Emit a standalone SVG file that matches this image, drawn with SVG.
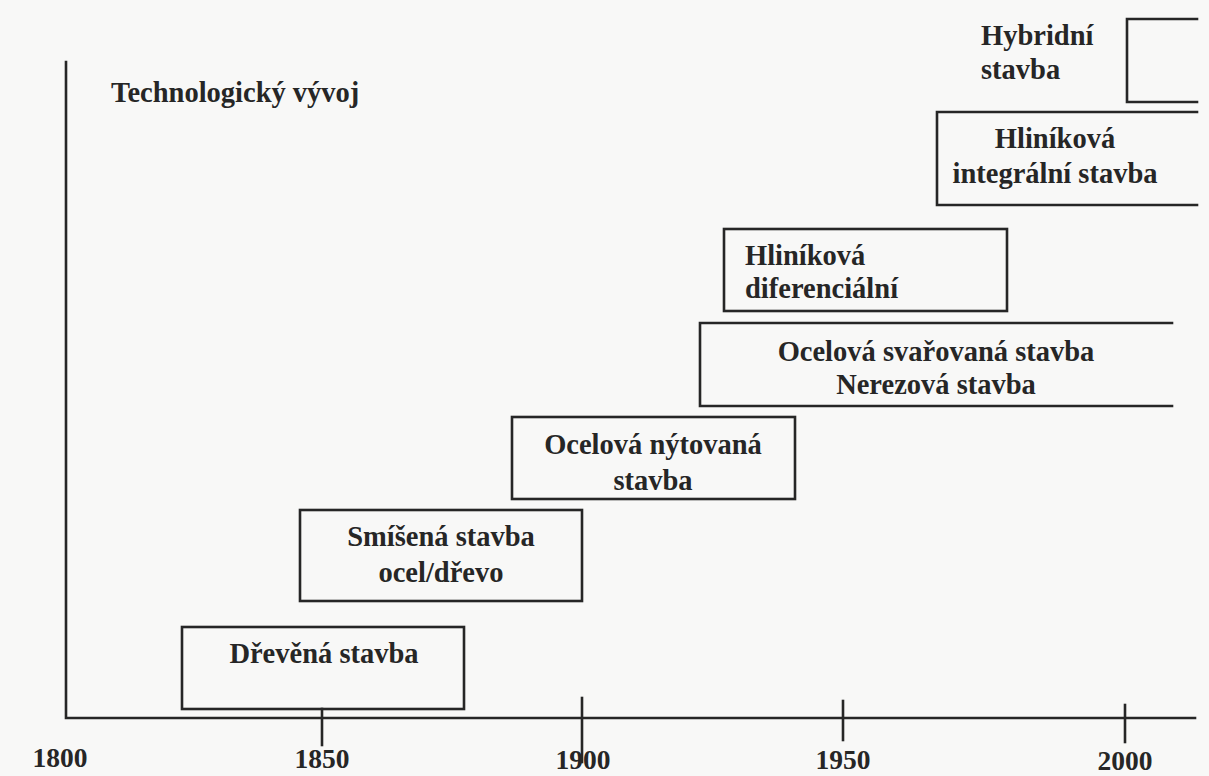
<svg xmlns="http://www.w3.org/2000/svg" width="1209" height="776" viewBox="0 0 1209 776">
<style>
.bg{fill:#f8f8f7}
.ln{stroke:#262626;stroke-width:2.6;fill:none;stroke-linecap:square}
.t{font-family:"Liberation Serif","Times New Roman",serif;font-weight:bold;font-size:28.5px;fill:#262626}
.c{text-anchor:middle}
.y{font-size:27.5px}
</style>
<rect class="bg" x="0" y="0" width="1209" height="776"/>
<g id="connectors">
<path class="ln" d="M66 62 V718 H1195"/>
<path class="ln" d="M322 709 V745"/>
<path class="ln" d="M582 698 V762"/>
<path class="ln" d="M843 701 V740"/>
<path class="ln" d="M1125 705 V742"/>
</g>
<g id="axis-labels">
<text class="t y c" x="60" y="767">1800</text>
<text class="t y c" x="322" y="768">1850</text>
<text class="t y c" x="583" y="769">1900</text>
<text class="t y c" x="843" y="769">1950</text>
<text class="t y c" x="1125" y="770">2000</text>
<text class="t" x="111" y="102">Technologický vývoj</text>
</g>
<g id="hybridni">
<path class="ln" d="M1197 19 H1127 V102 H1197"/>
<text class="t" x="981" y="45">Hybridní</text>
<text class="t" x="981" y="79">stavba</text>
</g>
<g id="hlinikova-integralni">
<path class="ln" d="M1197 112 H937 V205 H1197"/>
<text class="t c" x="1055" y="148">Hliníková</text>
<text class="t c" x="1055" y="183">integrální stavba</text>
</g>
<g id="hlinikova-diferencialni">
<rect class="ln" x="724" y="229" width="283" height="82"/>
<text class="t" x="745" y="265">Hliníková</text>
<text class="t" x="745" y="298">diferenciální</text>
</g>
<g id="ocelova-svarovana">
<path class="ln" d="M1172 323 H700 V406 H1172"/>
<text class="t c" x="936" y="361">Ocelová svařovaná stavba</text>
<text class="t c" x="936" y="394">Nerezová stavba</text>
</g>
<g id="ocelova-nytovana">
<rect class="ln" x="512" y="417" width="283" height="82"/>
<text class="t c" x="653" y="454">Ocelová nýtovaná</text>
<text class="t c" x="653" y="490">stavba</text>
</g>
<g id="smisena">
<rect class="ln" x="300" y="510" width="282" height="91"/>
<text class="t c" x="441" y="546">Smíšená stavba</text>
<text class="t c" x="441" y="582">ocel/dřevo</text>
</g>
<g id="drevena">
<rect class="ln" x="182" y="627" width="282" height="82"/>
<text class="t c" x="324" y="663">Dřevěná stavba</text>
</g>
</svg>
